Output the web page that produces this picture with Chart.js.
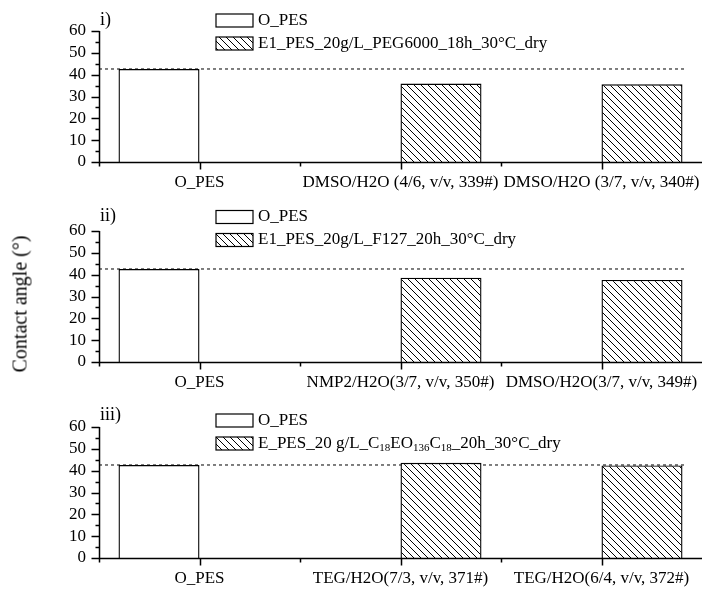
<!DOCTYPE html>
<html>
<head>
<meta charset="utf-8">
<script src="https://cdn.jsdelivr.net/npm/chart.js@4"></script>
<style>
  body { margin: 0; background: #fff; }
  #wrap { position: relative; width: 702px; height: 593px; }
  .panel { position: absolute; left: 0; width: 702px; height: 196px; }
  #ytitle {
    position: absolute; left: 20px; top: 304px;
    font: 20px 'Liberation Serif', serif; color: #000; white-space: nowrap;
    transform: translate(-50%, -50%) rotate(-90deg);
  }
</style>
</head>
<body>
<div id="wrap">
  <div class="panel" style="top:0px"><canvas id="panel1"></canvas></div>
  <div class="panel" style="top:200px"><canvas id="panel2"></canvas></div>
  <div class="panel" style="top:396px"><canvas id="panel3"></canvas></div>
  <div id="ytitle">Contact angle (°)</div>
</div>
<script>
// contact angle data, one set per membrane series
var categories1 = ['O_PES', 'DMSO/H2O (4/6, v/v, 339#)', 'DMSO/H2O (3/7, v/v, 340#)'];
var pristine1   = [42.6, null, null];
var treated1    = [null, 35.9, 35.6];
var names1      = ['O_PES', 'E1_PES_20g/L_PEG6000_18h_30°C_dry'];

var categories2 = ['O_PES', 'NMP2/H2O(3/7, v/v, 350#)', 'DMSO/H2O(3/7, v/v, 349#)'];
var pristine2   = [42.6, null, null];
var treated2    = [null, 38.6, 37.6];
var names2      = ['O_PES', 'E1_PES_20g/L_F127_20h_30°C_dry'];

var categories3 = ['O_PES', 'TEG/H2O(7/3, v/v, 371#)', 'TEG/H2O(6/4, v/v, 372#)'];
var pristine3   = [42.6, null, null];
var treated3    = [null, 43.6, 42.4];
var names3      = ['O_PES', 'E_PES_20 g/L_C_{18}EO_{136}C_{18}_20h_30°C_dry'];

var yTicks = [0, 10, 20, 30, 40, 50, 60];

var FONT = "'Liberation Serif', serif";

// hatch fill for the treated membranes
var hatch = (function () {
  var s = 7;
  var c = document.createElement('canvas');
  c.width = s; c.height = s;
  var g = c.getContext('2d');
  g.fillStyle = '#fff';
  g.fillRect(0, 0, s, s);
  g.strokeStyle = '#000';
  g.lineWidth = 1;
  g.beginPath();
  g.moveTo(-1, -1); g.lineTo(s + 1, s + 1);
  g.moveTo(-1, s - 1); g.lineTo(1, s + 1);
  g.moveTo(s - 1, -1); g.lineTo(s + 1, 1);
  g.stroke();
  return g.createPattern(c, 'repeat');
})();

// text with _{..} parts drawn as subscripts
function drawRich(ctx, text, x, y) {
  var parts = text.split(/(_\{[^}]*\})/);
  ctx.textBaseline = 'middle';
  ctx.textAlign = 'left';
  parts.forEach(function (p) {
    if (!p) return;
    if (p.indexOf('_{') === 0) {
      var sub = p.slice(2, -1);
      ctx.font = '11px ' + FONT;
      ctx.fillText(sub, x, y + 5);
      x += ctx.measureText(sub).width;
    } else {
      ctx.font = '17px ' + FONT;
      ctx.fillText(p, x, y);
      x += ctx.measureText(p).width;
    }
  });
}

var panelDecor = {
  id: 'panelDecor',
  beforeDatasetsDraw: function (chart, args, opts) {
    // dashed reference at the untreated membrane's angle
    var ctx = chart.ctx, area = chart.chartArea;
    var yy = chart.scales.y.getPixelForValue(opts.ref);
    var bars = chart.getDatasetMeta(1).data;
    var last = bars[bars.length - 1];
    ctx.save();
    ctx.strokeStyle = '#000';
    ctx.lineWidth = 1;
    ctx.setLineDash([3, 3]);
    ctx.beginPath();
    ctx.moveTo(area.left, yy);
    ctx.lineTo(last.x + last.width / 2 + 4, yy);
    ctx.stroke();
    ctx.restore();
  },
  afterDatasetsDraw: function (chart) {
    var ctx = chart.ctx, area = chart.chartArea;
    var x = chart.scales.x, y = chart.scales.y;
    var left = Math.round(area.left) + 0.5, bottom = Math.round(area.bottom) + 0.5;
    ctx.save();
    ctx.strokeStyle = '#000';
    ctx.lineWidth = 1.5;
    ctx.beginPath();
    // axis lines
    ctx.moveTo(left, y.getPixelForValue(60));
    ctx.lineTo(left, bottom);
    ctx.moveTo(left, bottom);
    ctx.lineTo(chart.width, bottom);
    // y ticks, major every 10 and minor between
    for (var v = 0; v <= 60; v += 5) {
      var py = Math.round(y.getPixelForValue(v)) + 0.5;
      ctx.moveTo(left - (v % 10 === 0 ? 8 : 4), py);
      ctx.lineTo(left, py);
    }
    // x ticks: long at category centres, short at boundaries
    var n = chart.data.labels.length;
    for (var i = 0; i < n; i++) {
      var cx = Math.round(x.getPixelForValue(i)) + 0.5;
      ctx.moveTo(cx, bottom);
      ctx.lineTo(cx, bottom + 7);
      var bx = Math.round(x.getPixelForValue(i - 0.5)) + 0.5;
      ctx.moveTo(bx, bottom);
      ctx.lineTo(bx, bottom + 4);
    }
    ctx.stroke();
    ctx.restore();
  },
  afterDraw: function (chart, args, opts) {
    var ctx = chart.ctx, area = chart.chartArea;
    ctx.save();
    ctx.fillStyle = '#000';
    ctx.font = '18px ' + FONT;
    ctx.textBaseline = 'middle';
    ctx.textAlign = 'left';
    ctx.fillText(opts.tag, area.left + 1, opts.tagY);

    // legend, one row per series
    var lx = area.left + 117;
    chart.data.datasets.forEach(function (ds, i) {
      var cy = opts.legendY + i * 23;
      ctx.fillStyle = ds.backgroundColor;
      ctx.fillRect(lx, cy - 6.5, 37, 13);
      ctx.strokeStyle = '#000';
      ctx.lineWidth = 1.2;
      ctx.strokeRect(lx, cy - 6.5, 37, 13);
      ctx.fillStyle = '#000';
      drawRich(ctx, ds.label, lx + 42, cy);
    });
    ctx.restore();
  }
};

function makePanel(id, tag, tagY, legendY, categories, pristine, treated, names) {
  var ctx = document.getElementById(id).getContext('2d');
  return new Chart(ctx, {
    type: 'bar',
    data: {
      labels: categories,
      datasets: [
        {
          label: names[0],
          data: pristine,
          backgroundColor: '#fff',
          borderColor: '#000',
          borderWidth: 1.4
        },
        {
          label: names[1],
          data: treated,
          backgroundColor: hatch,
          borderColor: '#000',
          borderWidth: 1.4
        }
      ]
    },
    options: {
      responsive: true,
      maintainAspectRatio: false,
      animation: false,
      categoryPercentage: 0.806,
      barPercentage: 1,
      layout: { padding: { top: 31, left: 0, right: 0, bottom: 0 } },
      plugins: {
        legend: { display: false },
        tooltip: { enabled: false },
        panelDecor: { tag: tag, tagY: tagY, legendY: legendY, ref: pristine[0] }
      },
      scales: {
        x: {
          grid: { display: false, drawTicks: false },
          border: { display: false },
          ticks: {
            autoSkip: false, maxRotation: 0, minRotation: 0, padding: 10,
            color: '#000', font: { family: FONT, size: 17 }
          },
          afterFit: function (s) {
            s.height = 34;
            s.paddingLeft = 0;
            s.paddingRight = 0;
          }
        },
        y: {
          min: 0, max: 60,
          afterBuildTicks: function (s) {
            s.ticks = yTicks.map(function (v) { return { value: v }; });
          },
          grid: { display: false, drawTicks: false },
          border: { display: false },
          ticks: {
            autoSkip: false, stepSize: 10, padding: 13,
            color: '#000', font: { family: FONT, size: 17 }
          },
          afterFit: function (s) {
            s.width = 99;
            s.paddingTop = 0;
            s.paddingBottom = 0;
          }
        }
      }
    },
    plugins: [panelDecor]
  });
}

makePanel('panel1', 'i)', 20, 20.5, categories1, pristine1, treated1, names1);
makePanel('panel2', 'ii)', 16, 17, categories2, pristine2, treated2, names2);
makePanel('panel3', 'iii)', 19, 24.5, categories3, pristine3, treated3, names3);
</script>
</body>
</html>
